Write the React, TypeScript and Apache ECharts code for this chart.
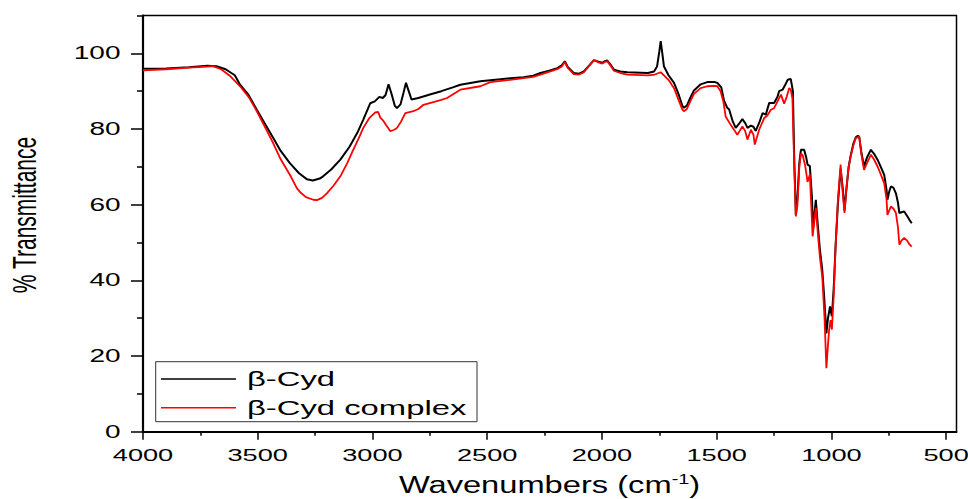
import React, { useEffect, useRef } from "react";
import * as echarts from "echarts";

// ---- data (wavenumber cm-1, % transmittance) ----
const betaCyd: [number, number][] = [
  [4000, 95.9], [3900, 96.0], [3800, 96.3], [3720, 96.7], [3680, 96.6], [3640, 95.8],
  [3600, 94.2], [3577, 91.7], [3540, 89.0], [3504, 85.1], [3470, 81.5], [3433, 77.7],
  [3400, 74.2], [3360, 71.0], [3320, 68.3], [3285, 66.7], [3260, 66.4], [3230, 66.9],
  [3215, 67.5], [3180, 69.3], [3140, 71.9], [3100, 75.3], [3066, 79.0], [3040, 82.5],
  [3010, 86.8], [2990, 87.3], [2970, 88.5], [2955, 88.2], [2943, 89.0], [2930, 91.8],
  [2918, 89.5], [2903, 86.2], [2893, 85.5], [2878, 86.5], [2865, 89.5], [2854, 92.2],
  [2842, 90.0], [2830, 87.8], [2800, 88.2], [2750, 89.1], [2700, 90.0], [2650, 91.0],
  [2617, 91.7], [2530, 92.6], [2486, 92.9], [2400, 93.4], [2342, 93.7], [2300, 94.1],
  [2268, 94.8], [2230, 95.4], [2195, 96.1], [2175, 96.8], [2162, 97.9], [2150, 96.5],
  [2123, 94.8], [2100, 94.6], [2079, 95.2], [2055, 96.8], [2035, 98.2], [2015, 97.8],
  [1999, 97.5], [1985, 98.0], [1977, 98.1], [1960, 96.8], [1948, 95.7], [1920, 95.2],
  [1889, 95.0], [1800, 94.8], [1773, 95.2], [1760, 96.5], [1750, 100.5], [1744, 103.2],
  [1737, 100.0], [1730, 96.6], [1710, 94.2], [1686, 92.2], [1665, 89.0], [1650, 86.2],
  [1643, 85.6], [1630, 86.2], [1615, 88.3], [1599, 90.2], [1570, 91.8], [1541, 92.4],
  [1510, 92.4], [1497, 92.2], [1480, 91.0], [1468, 87.5], [1454, 85.6], [1446, 85.2],
  [1430, 82.0], [1417, 80.3], [1405, 81.2], [1388, 82.6], [1375, 81.5], [1366, 80.3],
  [1351, 80.9], [1340, 80.6], [1330, 79.5], [1315, 81.6], [1300, 84.2], [1286, 83.8],
  [1271, 86.9], [1250, 86.9], [1235, 88.5], [1228, 90.0], [1213, 90.4], [1200, 91.8],
  [1191, 93.0], [1177, 93.2], [1168, 90.0], [1162, 72.0], [1155, 57.3], [1148, 62.0],
  [1140, 71.0], [1133, 74.5], [1119, 74.5], [1110, 72.5], [1104, 70.6], [1094, 70.2],
  [1085, 62.0], [1080, 53.5], [1068, 61.3], [1060, 55.0], [1050, 48.0], [1040, 42.8],
  [1032, 36.0], [1022, 26.0], [1015, 30.0], [1006, 33.1], [998, 30.5], [990, 38.0],
  [982, 49.0], [972, 60.0], [960, 69.5], [950, 64.0], [943, 58.5], [935, 64.0],
  [925, 70.0], [916, 73.0], [905, 76.0], [894, 77.8], [885, 78.2], [879, 78.0],
  [870, 74.0], [858, 70.1], [845, 72.5], [828, 74.5], [815, 73.5], [799, 71.9],
  [785, 70.0], [770, 67.9], [760, 64.0], [756, 61.3], [748, 63.5], [741, 64.8],
  [730, 64.5], [719, 63.0], [710, 60.5], [704, 57.8], [695, 58.0], [683, 58.2],
  [670, 57.0], [660, 56.0], [650, 55.1],
];

const betaCydComplex: [number, number][] = [
  [4000, 95.5], [3900, 95.8], [3800, 96.2], [3720, 96.5], [3695, 96.6], [3660, 95.8],
  [3620, 94.0], [3577, 91.3], [3540, 88.5], [3504, 84.7], [3470, 80.7], [3433, 76.3],
  [3400, 72.0], [3360, 67.9], [3329, 64.3], [3315, 63.3], [3290, 62.0], [3258, 61.3],
  [3242, 61.2], [3220, 61.8], [3199, 63.0], [3170, 65.0], [3140, 67.5], [3110, 71.0],
  [3084, 74.5], [3060, 77.5], [3040, 80.3], [3015, 82.8], [2988, 84.4], [2975, 84.5],
  [2966, 83.0], [2953, 82.2], [2940, 81.0], [2922, 79.4], [2905, 79.8], [2893, 80.3],
  [2875, 82.0], [2857, 84.2], [2822, 84.7], [2800, 85.3], [2778, 86.4], [2700, 87.7],
  [2675, 88.2], [2617, 90.4], [2530, 91.3], [2486, 92.4], [2400, 93.0], [2300, 93.8],
  [2268, 94.4], [2195, 95.8], [2175, 96.5], [2162, 97.7], [2150, 96.2], [2123, 94.5],
  [2100, 94.4], [2079, 95.0], [2055, 96.8], [2035, 98.2], [2015, 97.6], [1999, 97.3],
  [1985, 97.8], [1977, 97.9], [1960, 96.5], [1948, 95.4], [1920, 94.8], [1889, 94.4],
  [1800, 94.2], [1770, 94.4], [1744, 95.0], [1730, 94.2], [1710, 93.0], [1686, 90.8],
  [1665, 87.5], [1650, 85.2], [1643, 84.7], [1630, 85.3], [1615, 87.3], [1599, 89.3],
  [1570, 90.8], [1541, 91.3], [1510, 91.4], [1497, 91.3], [1483, 90.0], [1470, 87.0],
  [1461, 83.3], [1439, 81.1], [1410, 78.5], [1400, 79.5], [1388, 80.7], [1376, 79.5],
  [1366, 77.2], [1351, 79.8], [1340, 78.5], [1334, 75.9], [1315, 79.8], [1293, 82.9],
  [1280, 83.5], [1264, 85.1], [1250, 85.5], [1235, 87.3], [1220, 89.1], [1206, 86.7],
  [1195, 88.5], [1184, 90.8], [1177, 90.4], [1170, 88.0], [1162, 70.0], [1155, 56.9],
  [1148, 60.0], [1140, 70.0], [1133, 73.5], [1125, 73.0], [1115, 70.5], [1104, 66.0],
  [1094, 68.0], [1082, 51.6], [1072, 57.0], [1068, 59.2], [1060, 53.0], [1050, 46.0],
  [1040, 41.0], [1030, 30.0], [1022, 16.8], [1015, 23.0], [1010, 26.9], [1004, 29.5],
  [998, 27.0], [990, 36.0], [982, 48.9], [972, 61.0], [960, 70.6], [952, 64.0],
  [943, 57.8], [935, 64.0], [925, 70.0], [916, 72.8], [905, 75.5], [894, 77.6],
  [879, 78.0], [870, 73.5], [858, 69.2], [845, 71.0], [828, 73.2], [815, 72.0],
  [799, 70.1], [785, 68.0], [770, 65.7], [760, 61.5], [756, 57.3], [748, 58.5],
  [741, 59.5], [730, 59.0], [719, 57.8], [710, 54.0], [704, 49.4], [695, 50.5],
  [683, 51.2], [670, 50.5], [660, 49.5], [650, 48.9],
];

const seriesNames = ["β-Cyd", "β-Cyd complex"];
const seriesColors = ["#000000", "#ff0000"];
const xMajorTicks = [4000, 3500, 3000, 2500, 2000, 1500, 1000, 500];
const xMinorTicks = [3750, 3250, 2750, 2250, 1750, 1250, 750];
const yMajorTicks = [0, 20, 40, 60, 80, 100];
const yMinorTicks = [10, 30, 50, 70, 90, 110];
const xTitle = "Wavenumbers (cm";
const xTitleSup = "-1";
const yTitle = "% Transmittance";

const FONT = "'Liberation Sans', Arial, Helvetica, sans-serif";
const STRETCH = 1.6;

export default function App() {
  const ref = useRef<HTMLDivElement>(null);

  useEffect(() => {
    document.body.style.margin = "0";
    const chart = echarts.init(ref.current!, null, { renderer: "svg" });
    const xBase = {
      type: "value" as const,
      inverse: true,
      min: 455,
      max: 4000,
      position: "bottom" as const,
      offset: 0,
      splitLine: { show: false },
      axisLabel: { show: false },
    };
    const yBase = {
      type: "value" as const,
      min: 0,
      max: 110,
      position: "left" as const,
      offset: 0,
      splitLine: { show: false },
      axisLabel: { show: false },
    };
    chart.setOption({
      animation: false,
      backgroundColor: "#ffffff",
      grid: {
        left: 143,
        right: 11.5,
        top: 15.5,
        bottom: 67.3,
        show: true,
        borderColor: "#000",
        borderWidth: 1.5,
        backgroundColor: "transparent",
      },
      xAxis: [
        {
          ...xBase,
          axisLine: { show: true, lineStyle: { color: "#000", width: 1.8 } },
          axisTick: {
            show: true,
            customValues: xMajorTicks,
            length: 8,
            lineStyle: { color: "#000", width: 1.5 },
          },
        },
        {
          ...xBase,
          axisLine: { show: false },
          axisTick: {
            show: true,
            customValues: xMinorTicks,
            length: 4,
            lineStyle: { color: "#000", width: 1.5 },
          },
        },
      ],
      yAxis: [
        {
          ...yBase,
          axisLine: { show: true, lineStyle: { color: "#000", width: 2.2 } },
          axisTick: {
            show: true,
            customValues: yMajorTicks,
            length: 12,
            lineStyle: { color: "#000", width: 1.5 },
          },
        },
        {
          ...yBase,
          axisLine: { show: false },
          axisTick: {
            show: true,
            customValues: yMinorTicks,
            length: 6,
            lineStyle: { color: "#000", width: 1.5 },
          },
        },
      ],
      series: [
        {
          name: seriesNames[0],
          type: "line",
          data: betaCyd,
          xAxisIndex: 0,
          yAxisIndex: 0,
          showSymbol: false,
          symbol: "none",
          lineStyle: { color: seriesColors[0], width: 2 },
          z: 2,
        },
        {
          name: seriesNames[1],
          type: "line",
          data: betaCydComplex,
          xAxisIndex: 0,
          yAxisIndex: 0,
          showSymbol: false,
          symbol: "none",
          lineStyle: { color: seriesColors[1], width: 1.8 },
          z: 3,
        },
      ],
    });

    const pt = (x: number, y: number) =>
      chart.convertToPixel({ gridIndex: 0 }, [x, y]) as number[];

    const graphics: any[] = [];
    xMajorTicks.forEach((v) => {
      const p = pt(v, 0);
      graphics.push({
        type: "text",
        x: p[0],
        y: p[1] + 23,
        scaleX: STRETCH,
        style: {
          text: String(v),
          fontFamily: FONT,
          fontSize: 17,
          fill: "#000",
          align: "center",
          verticalAlign: "middle",
        },
      });
    });
    yMajorTicks.forEach((v) => {
      const p = pt(4000, v);
      graphics.push({
        type: "text",
        x: p[0] - 22.5,
        y: p[1],
        scaleX: STRETCH,
        style: {
          text: String(v),
          fontFamily: FONT,
          fontSize: 17.5,
          fill: "#000",
          align: "right",
          verticalAlign: "middle",
        },
      });
    });
    // axis titles
    graphics.push({
      type: "text",
      x: 549.5,
      y: 485,
      scaleX: 1.42,
      style: {
        text: `{a|${xTitle}}{s|${xTitleSup}}{a|)}`,
        align: "center",
        verticalAlign: "middle",
        rich: {
          a: { fontFamily: FONT, fontSize: 23, lineHeight: 26, fill: "#000" },
          s: { fontFamily: FONT, fontSize: 14, lineHeight: 14, fill: "#000", verticalAlign: "top" },
        },
      },
    });
    graphics.push({
      type: "text",
      x: 25,
      y: 215,
      rotation: Math.PI / 2,
      scaleY: 1.6,
      style: {
        text: yTitle,
        fontFamily: FONT,
        fontSize: 21,
        fill: "#000",
        align: "center",
        verticalAlign: "middle",
      },
    });
    // legend
    graphics.push({
      type: "rect",
      shape: { x: 155.7, y: 361.7, width: 321.3, height: 60 },
      style: { fill: "#fff", stroke: "#333", lineWidth: 1 },
      z: 10,
    });
    const rows = [379, 407.7];
    seriesNames.forEach((name, i) => {
      graphics.push({
        type: "line",
        shape: { x1: 161, y1: rows[i], x2: 236, y2: rows[i] },
        style: { stroke: seriesColors[i], lineWidth: 1.5 },
        z: 11,
      });
      graphics.push({
        type: "text",
        x: 247,
        y: rows[i],
        scaleX: STRETCH,
        z: 11,
        style: {
          text: name,
          fontFamily: FONT,
          fontSize: 20.5,
          fill: "#000",
          align: "left",
          verticalAlign: "middle",
        },
      });
    });

    chart.setOption({ graphic: graphics });

    return () => chart.dispose();
  }, []);

  return (
    <div
      ref={ref}
      style={{ position: "absolute", left: 0, top: 0, width: 968, height: 499 }}
    />
  );
}
